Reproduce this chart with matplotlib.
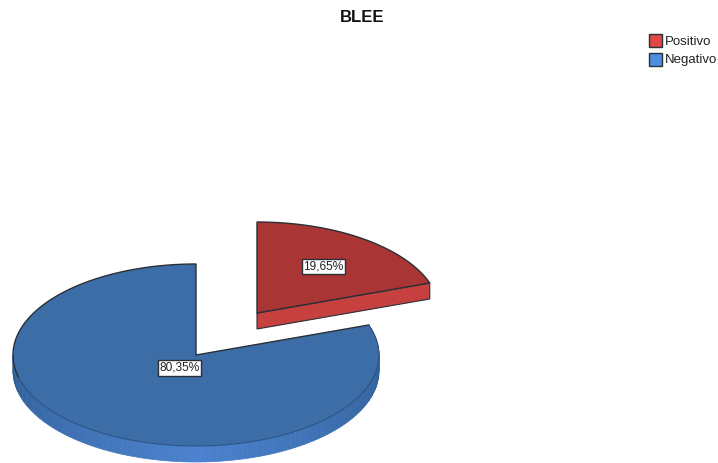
import numpy as np
import matplotlib
matplotlib.use('Agg')
import matplotlib.pyplot as plt
from matplotlib.patches import Polygon, Rectangle

plt.rcParams['font.family'] = ['Liberation Sans', 'DejaVu Sans']

# Data
categories = ['Positivo', 'Negativo']
shares = [19.65, 80.35]
labels = ['19,65%', '80,35%']
title = 'BLEE'

# Colours
top_colors = ['#A93535', '#3C6DA7']
legend_colors = ['#E04848', '#4E8FE2']
red_side = '#C64040'
edge = '#2A2F36'

# Pie geometry in pixels
rx, ry, depth = 183, 91, 16
centers = [(257, 313), (196, 355)]
label_pos = [(323.5, 266.5), (179.5, 368)]

fig = plt.figure(figsize=(7.18, 4.63), dpi=100)
ax = fig.add_axes([0, 0, 1, 1])
ax.set_xlim(0, 718)
ax.set_ylim(463, 0)
ax.axis('off')


def ellipse_pts(cx, cy, t):
    return cx + rx * np.cos(t), cy - ry * np.sin(t)


# slice angle, clockwise from 12 o'clock
split = np.pi / 2 - shares[0] / sum(shares) * 2 * np.pi

# Blue side wall, drawn in strips so the shade can change
cx, cy = centers[1]
t_side = np.linspace(split, -np.pi, 121)
dark = np.array(matplotlib.colors.to_rgb('#2F5E95'))
light = np.array(matplotlib.colors.to_rgb('#4C82CF'))
for a, b in zip(t_side[:-1], t_side[1:]):
    t = np.linspace(a, b, 4)
    x, y = ellipse_pts(cx, cy, t)
    pts = np.r_[np.c_[x, y], np.c_[x[::-1], y[::-1] + depth]]
    mid = (a + b) / 2
    w = np.clip(1 - abs(mid + np.pi / 2) / (np.pi / 2), 0, 1)
    col = dark + (light - dark) * w
    ax.add_patch(Polygon(pts, closed=True, fc=col, ec=col, lw=0.5, zorder=1))

# Blue top
t = np.linspace(np.pi / 2, split + 2 * np.pi, 240)
x, y = ellipse_pts(cx, cy, t)
pts = np.r_[[[cx, cy]], np.c_[x, y]]
ax.add_patch(Polygon(pts, closed=True, fc=top_colors[1], ec='none', zorder=2))

# Outline: dark on the back half, thin blue along the front
back = t <= np.pi * 1.08
ex, ey = ellipse_pts(cx, cy, split)
ax.plot(np.r_[ex, cx, x[back]], np.r_[ey, cy, y[back]], color=edge, lw=1.0, zorder=3)
ax.plot(x[~back], y[~back], color='#28507F', lw=0.7, zorder=3)

# Red side wall (front cut face)
cx, cy = centers[0]
ex, ey = ellipse_pts(cx, cy, split)
ax.add_patch(Polygon([(cx, cy), (ex, ey), (ex, ey + depth), (cx, cy + depth)], closed=True,
                     fc=red_side, ec=edge, lw=0.8, zorder=3))

# Red top
t = np.linspace(np.pi / 2, split, 80)
x, y = ellipse_pts(cx, cy, t)
pts = np.r_[[[cx, cy]], np.c_[x, y]]
ax.add_patch(Polygon(pts, closed=True, fc=top_colors[0], ec=edge, lw=1.0, zorder=4))

# Value labels
for (lx, ly), s in zip(label_pos, labels):
    ax.text(lx, ly, s, ha='center', va='center', fontsize=8.6, color='#222222', zorder=6,
            bbox=dict(boxstyle='square,pad=0.14', fc='white', ec=edge, lw=1.0))

# Title
ax.text(362.5, 18, title, ha='center', va='center', fontsize=12, fontweight='bold', color='#111111')

# Legend
for i, name in enumerate(categories):
    y0 = 34 + i * 18.5
    ax.add_patch(Rectangle((649, y0), 13, 13, fc=legend_colors[i], ec=edge, lw=1.0))
    ax.text(665, y0 + 8, name, ha='left', va='center', fontsize=9.5, color='#222222')

fig.savefig('out.png', dpi=100)
